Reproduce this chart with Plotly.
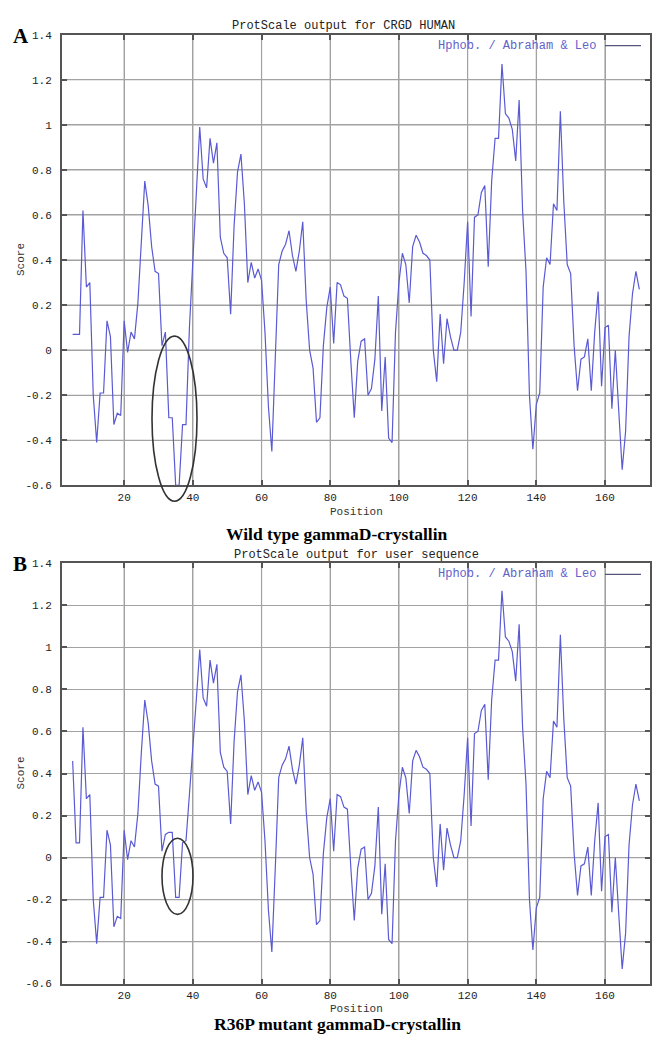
import plotly.graph_objects as go

# ---------------- data ----------------
positions = list(range(5, 171))

wild_type = [
    0.07, 0.07, 0.07, 0.62, 0.28, 0.30, -0.20, -0.41, -0.19, -0.19,   # 5-14
    0.13, 0.06, -0.33, -0.28, -0.29, 0.13, -0.01, 0.08, 0.05, 0.21,   # 15-24
    0.50, 0.75, 0.64, 0.46, 0.35, 0.34, 0.02, 0.08, -0.30, -0.30,     # 25-34
    -0.60, -0.60, -0.33, -0.33, 0.10, 0.40, 0.65, 0.99, 0.76, 0.72,   # 35-44
    0.94, 0.83, 0.92, 0.50, 0.43, 0.41, 0.16, 0.55, 0.79, 0.87,       # 45-54
    0.65, 0.30, 0.39, 0.32, 0.36, 0.31, 0.08, -0.25, -0.45, -0.05,    # 55-64
    0.38, 0.44, 0.47, 0.53, 0.42, 0.35, 0.44, 0.57, 0.22, 0.00,       # 65-74
    -0.08, -0.32, -0.30, 0.02, 0.19, 0.28, 0.03, 0.30, 0.29, 0.24,    # 75-84
    0.23, -0.05, -0.30, -0.05, 0.04, 0.05, -0.20, -0.17, -0.04, 0.24, # 85-94
    -0.27, -0.03, -0.39, -0.41, 0.08, 0.30, 0.43, 0.38, 0.21, 0.46,   # 95-104
    0.51, 0.48, 0.43, 0.42, 0.40, 0.00, -0.14, 0.16, -0.06, 0.14,     # 105-114
    0.06, 0.00, 0.00, 0.08, 0.30, 0.57, 0.15, 0.59, 0.60, 0.70,       # 115-124
    0.73, 0.37, 0.75, 0.94, 0.94, 1.27, 1.05, 1.03, 0.98, 0.84,       # 125-134
    1.11, 0.62, 0.35, -0.20, -0.44, -0.24, -0.19, 0.28, 0.41, 0.38,   # 135-144
    0.65, 0.62, 1.06, 0.66, 0.38, 0.34, 0.02, -0.18, -0.04, -0.03,    # 145-154
    0.05, -0.18, 0.08, 0.26, -0.16, 0.10, 0.11, -0.26, 0.00, -0.27,   # 155-164
    -0.53, -0.36, 0.06, 0.25, 0.35, 0.27,                             # 165-170
]

r36p_mutant = [
    0.46, 0.07, 0.07, 0.62, 0.28, 0.30, -0.20, -0.41, -0.19, -0.19,   # 5-14
    0.13, 0.06, -0.33, -0.28, -0.29, 0.13, -0.01, 0.08, 0.05, 0.21,   # 15-24
    0.50, 0.75, 0.64, 0.46, 0.35, 0.34, 0.03, 0.11, 0.12, 0.12,       # 25-34
    -0.19, -0.19, 0.07, 0.08, 0.30, 0.55, 0.75, 0.99, 0.76, 0.72,     # 35-44
    0.94, 0.83, 0.92, 0.50, 0.43, 0.41, 0.16, 0.55, 0.79, 0.87,       # 45-54
    0.65, 0.30, 0.39, 0.32, 0.36, 0.31, 0.08, -0.25, -0.45, -0.05,    # 55-64
    0.38, 0.44, 0.47, 0.53, 0.42, 0.35, 0.44, 0.57, 0.22, 0.00,       # 65-74
    -0.08, -0.32, -0.30, 0.02, 0.19, 0.28, 0.03, 0.30, 0.29, 0.24,    # 75-84
    0.23, -0.05, -0.30, -0.05, 0.04, 0.05, -0.20, -0.17, -0.04, 0.24, # 85-94
    -0.27, -0.03, -0.39, -0.41, 0.08, 0.30, 0.43, 0.38, 0.21, 0.46,   # 95-104
    0.51, 0.48, 0.43, 0.42, 0.40, 0.00, -0.14, 0.16, -0.06, 0.14,     # 105-114
    0.06, 0.00, 0.00, 0.08, 0.30, 0.57, 0.15, 0.59, 0.60, 0.70,       # 115-124
    0.73, 0.37, 0.75, 0.94, 0.94, 1.27, 1.05, 1.03, 0.98, 0.84,       # 125-134
    1.11, 0.62, 0.35, -0.20, -0.44, -0.24, -0.19, 0.28, 0.41, 0.38,   # 135-144
    0.65, 0.62, 1.06, 0.66, 0.38, 0.34, 0.02, -0.18, -0.04, -0.03,    # 145-154
    0.05, -0.18, 0.08, 0.26, -0.16, 0.10, 0.11, -0.26, 0.00, -0.27,   # 155-164
    -0.53, -0.36, 0.06, 0.25, 0.35, 0.27,                             # 165-170
]

x_tick_values = [20, 40, 60, 80, 100, 120, 140, 160]
y_tick_values = [-0.6, -0.4, -0.2, 0, 0.2, 0.4, 0.6, 0.8, 1, 1.2, 1.4]
y_tick_labels = ["-0.6", "-0.4", "-0.2", "0", "0.2", "0.4", "0.6", "0.8", "1", "1.2", "1.4"]

panel_letters = ["A", "B"]
panel_titles = ["ProtScale output for CRGD HUMAN", "ProtScale output for user sequence"]
panel_captions = ["Wild type gammaD-crystallin", "R36P mutant gammaD-crystallin"]
legend_label = "Hphob. / Abraham & Leo"

# ---------------- layout helpers ----------------
W, H = 652, 1038
MONO = "Liberation Mono"
SERIF = "Liberation Serif"
LINE = "#5a5ad4"
GRID = "#a2a2a2"
X_RANGE = [1.9, 173.1]
Y_RANGE = [-0.6, 1.4]


def px(x):
    return x / W


def py(y):
    return 1 - y / H


fig = go.Figure()
fig.add_trace(go.Scatter(x=positions, y=wild_type, mode="lines",
                         line=dict(color=LINE, width=1.2),
                         xaxis="x", yaxis="y", showlegend=False))
fig.add_trace(go.Scatter(x=positions, y=r36p_mutant, mode="lines",
                         line=dict(color=LINE, width=1.2),
                         xaxis="x2", yaxis="y2", showlegend=False))

common = dict(showgrid=True, gridcolor=GRID, gridwidth=1.2,
              showline=True, linecolor="#555555", linewidth=2,
              mirror="ticks", ticks="inside", ticklen=5, tickcolor="#555555",
              tickwidth=1.5, zeroline=False,
              tickfont=dict(family=MONO, size=11, color="#222222"))

xdom = [px(62), px(650)]
panels = [(30, 486), (565, 990)]

fig.update_layout(
    width=W, height=H,
    margin=dict(l=0, r=0, t=0, b=0),
    paper_bgcolor="white", plot_bgcolor="white",
    xaxis=dict(domain=xdom, range=X_RANGE, tickvals=x_tick_values, anchor="y",
               ticklabelstandoff=0, **common),
    yaxis=dict(domain=[py(panels[0][1]), py(panels[0][0])], range=Y_RANGE,
               tickvals=y_tick_values, ticktext=y_tick_labels, anchor="x",
               ticklabelstandoff=6, **common),
    xaxis2=dict(domain=xdom, range=X_RANGE, tickvals=x_tick_values, anchor="y2",
                ticklabelstandoff=0, **common),
    yaxis2=dict(domain=[py(panels[1][1]), py(panels[1][0])], range=Y_RANGE,
                tickvals=y_tick_values, ticktext=y_tick_labels, anchor="x2",
                ticklabelstandoff=6, **common),
)

annotations = []
shapes = []
title_x = [344, 356]
position_y = [513, 1016]
caption_y = [535, 1031]
ellipses = [(152, 197, 335, 502), (162, 193, 843, 920)]
axis_refs = [("x", "y"), ("x2", "y2")]
for i, (top, bot) in enumerate(panels):
    xref, yref = axis_refs[i]
    # grid drawn from the tick arrays (between grid layer and traces)
    for xv in x_tick_values:
        shapes.append(dict(type="line", xref=xref, yref=yref, layer="between",
                           x0=xv, x1=xv, y0=Y_RANGE[0], y1=Y_RANGE[1],
                           line=dict(color=GRID, width=1.2)))
    for yv in y_tick_values[1:-1]:
        shapes.append(dict(type="line", xref=xref, yref=yref, layer="between",
                           x0=X_RANGE[0], x1=X_RANGE[1], y0=yv, y1=yv,
                           line=dict(color=GRID, width=1.2)))

    annotations.append(dict(x=px(11), y=py(top + 1), xref="paper", yref="paper",
                            text="<b>%s</b>" % panel_letters[i], showarrow=False,
                            xanchor="left", yanchor="middle",
                            font=dict(family=SERIF, size=21, color="black")))
    annotations.append(dict(x=px(title_x[i]), y=py(top - 9), xref="paper", yref="paper",
                            text=panel_titles[i], showarrow=False,
                            xanchor="center", yanchor="middle",
                            font=dict(family=MONO, size=12, color="#222222")))
    annotations.append(dict(x=px(598), y=py(top + 11), xref="paper", yref="paper",
                            text=legend_label, showarrow=False,
                            xanchor="right", yanchor="middle",
                            font=dict(family=MONO, size=12, color="#6262cc")))
    shapes.append(dict(type="line", xref="paper", yref="paper",
                       x0=px(605), x1=px(641), y0=py(top + 11), y1=py(top + 11),
                       line=dict(color="#55557a", width=1.2)))
    annotations.append(dict(x=px(357), y=py(position_y[i]), xref="paper", yref="paper",
                            text="Position", showarrow=False,
                            xanchor="center", yanchor="middle",
                            font=dict(family=MONO, size=11, color="#333333")))
    annotations.append(dict(x=px(21), y=py((top + bot) / 2), xref="paper", yref="paper",
                            text="Score", showarrow=False, textangle=-90,
                            xanchor="center", yanchor="middle",
                            font=dict(family=MONO, size=11, color="#333333")))
    annotations.append(dict(x=px(337), y=py(caption_y[i]), xref="paper", yref="paper",
                            text="<b>%s</b>" % panel_captions[i], showarrow=False,
                            xanchor="center", yanchor="middle",
                            font=dict(family=SERIF, size=17.5, color="black")))
    ex0, ex1, ey0, ey1 = ellipses[i]
    shapes.append(dict(type="circle", xref="paper", yref="paper",
                       x0=px(ex0), x1=px(ex1), y0=py(ey1), y1=py(ey0),
                       line=dict(color="#333333", width=1.6)))

fig.update_layout(annotations=annotations, shapes=shapes)
fig.write_html("out.html",
               config={"displayModeBar": False},
               post_script="var gd=document.getElementById('{plot_id}');"
                           "gd.style.position='fixed';gd.style.top='0px';gd.style.left='0px';"
                           "document.body.style.margin='0';"
                           "document.documentElement.style.overflow='hidden';")
